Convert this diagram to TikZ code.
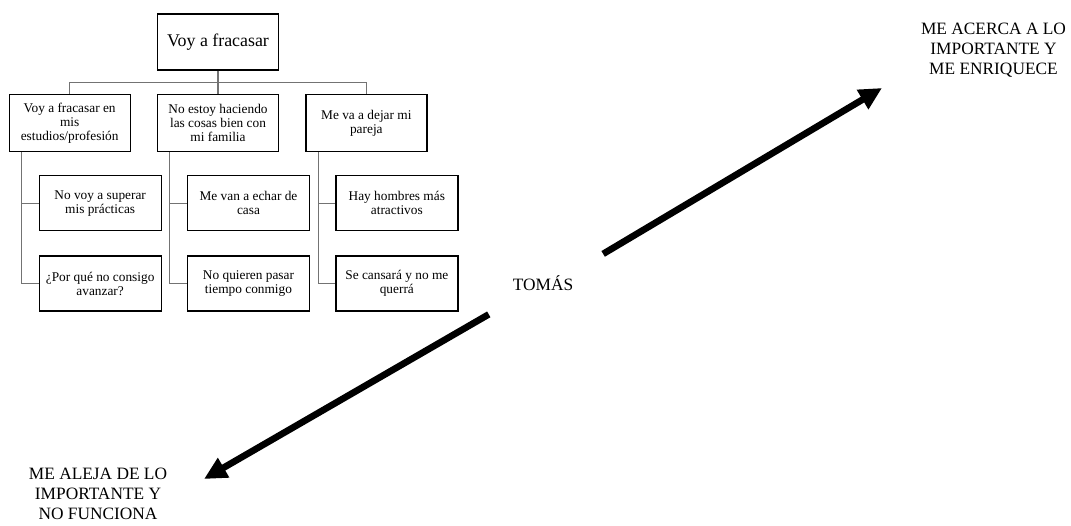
\documentclass[tikz,border=0pt]{standalone}
\usepackage{fontspec}
\setmainfont{Liberation Serif}
\usetikzlibrary{positioning,arrows.meta}

\begin{document}
\begin{tikzpicture}[
  x=0.75pt, y=-0.75pt,
  node distance=17.25pt and 19.5pt,
  rootbox/.style={draw, line width=1pt, minimum width=90.5pt, minimum height=42pt, font=\fontsize{13.4}{16}\selectfont},
  branch/.style={draw, line width=1pt, minimum width=90.75pt, minimum height=42.75pt, inner sep=2pt, align=center, font=\fontsize{10}{10.5}\selectfont},
  leaf/.style={branch, minimum width=91.5pt, minimum height=41.25pt},
  link/.style={draw=black!55, line width=0.8pt},
  bigtext/.style={align=center, font=\fontsize{13}{15}\selectfont},
  bigarrow/.style={line width=5pt, -{Triangle[length=17pt, width=16pt]}}
]
\useasboundingbox (0,0) rectangle (1071,525);

% Root of the tree
\node[rootbox] (root) at (218,42) {Voy a fracasar};

% First level
\node[branch, below=of root] (familia) {No estoy haciendo\\las cosas bien con\\mi familia};
\node[branch, left=of familia] (estudios) {Voy a fracasar en\\mis\\estudios/profesión};
\node[branch, right=of familia] (pareja) {Me va a dejar mi\\pareja};

% Second level
\node[leaf, below right=17.25pt and 22.5pt of estudios.south west] (practicas) {No voy a superar\\mis prácticas};
\node[leaf, below=18pt of practicas] (avanzar) {¿Por qué no consigo\\avanzar?};
\node[leaf, below right=17.25pt and 22.5pt of familia.south west] (casa) {Me van a echar de\\casa};
\node[leaf, below=18pt of casa] (tiempo) {No quieren pasar\\tiempo conmigo};
\node[leaf, below right=17.25pt and 22.5pt of pareja.south west] (hombres) {Hay hombres más\\atractivos};
\node[leaf, below=18pt of hombres] (querra) {Se cansará y no me\\querrá};

% Tree lines
\coordinate (bus) at ([yshift=-9pt]root.south);
\draw[link] (root.south) -- (familia.north);
\draw[link] (estudios.north) |- (bus) -| (pareja.north);
\draw[link] ([xshift=9.75pt]estudios.south west) |- (practicas.west);
\draw[link] ([xshift=9.75pt]estudios.south west) |- (avanzar.west);
\draw[link] ([xshift=9.75pt]familia.south west) |- (casa.west);
\draw[link] ([xshift=9.75pt]familia.south west) |- (tiempo.west);
\draw[link] ([xshift=9.75pt]pareja.south west) |- (hombres.west);
\draw[link] ([xshift=9.75pt]pareja.south west) |- (querra.west);

% Tomás and the two directions
\node[bigtext] (tomas) at (543,283) {TOMÁS};
\node[bigtext] (acerca) at (993.5,50) {ME ACERCA A LO\\IMPORTANTE Y\\ME ENRIQUECE};
\node[bigtext] (aleja) at (98,494) {ME ALEJA DE LO\\IMPORTANTE Y\\NO FUNCIONA};
\coordinate (upTip) at (882,88);
\coordinate (downTip) at (204,479);
\draw[bigarrow, shorten <=52.5pt] ([yshift=-5pt]tomas.center) -- (upTip);
\draw[bigarrow, shorten <=47pt] (tomas.center) -- (downTip);

\end{tikzpicture}
\end{document}
